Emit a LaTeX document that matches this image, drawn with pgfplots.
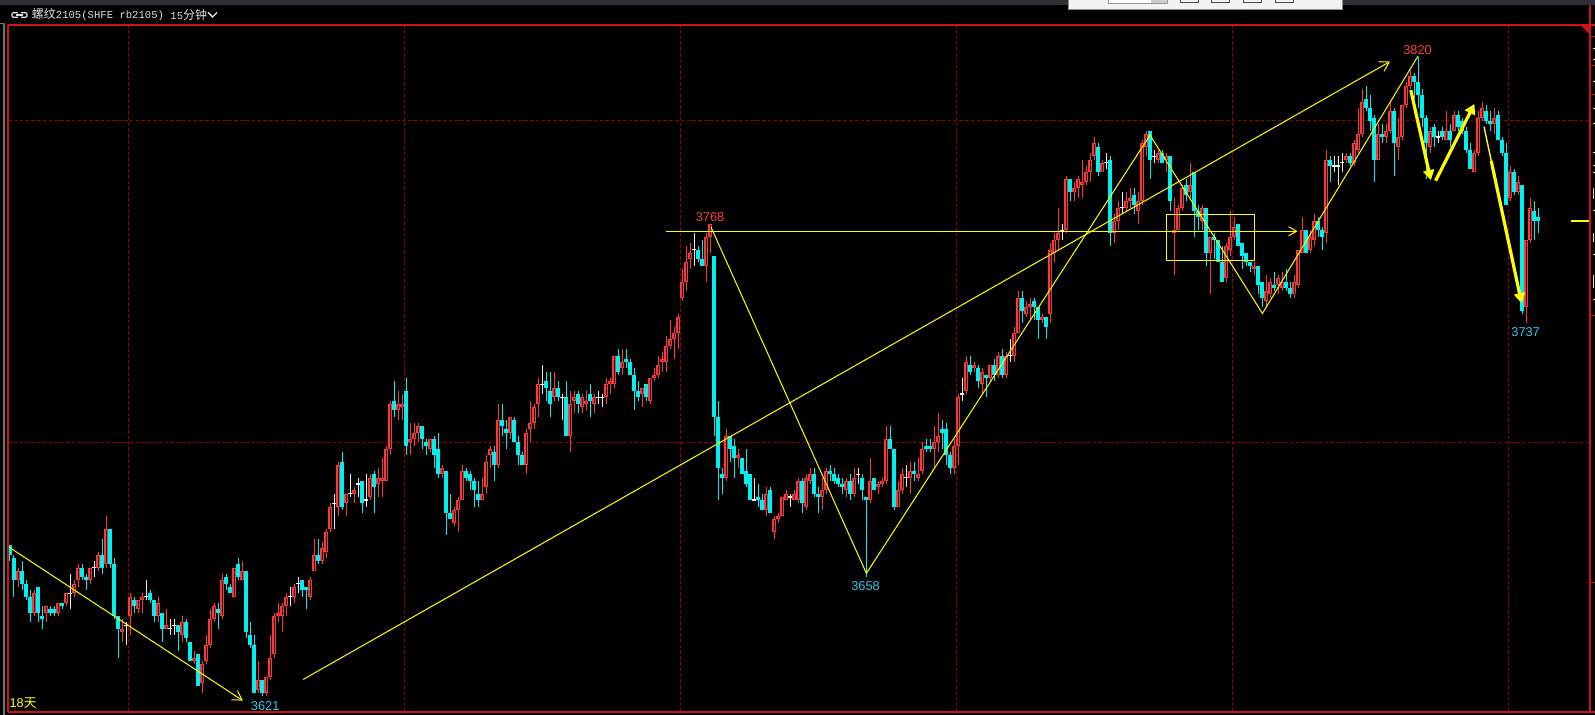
\documentclass[border=0pt]{standalone}
\usepackage{pgfplots}
\pgfplotsset{compat=1.18}
\usepackage{pgfplotstable}
\usetikzlibrary{arrows.meta}
\usepackage{fontspec}
\setmainfont{Liberation Sans}
\newfontfamily\cjk{Noto Sans CJK SC}
\newfontfamily\mono{Liberation Mono}

\definecolor{upred}{RGB}{255,55,55}
\definecolor{dncyan}{RGB}{0,240,240}
\definecolor{dojiw}{RGB}{235,235,235}
\definecolor{yel}{RGB}{255,255,0}
\definecolor{gridred}{RGB}{150,0,0}
\definecolor{framered}{RGB}{205,20,20}
\definecolor{labred}{RGB}{255,60,60}
\definecolor{labcyan}{RGB}{50,200,235}
\definecolor{titlegray}{RGB}{225,225,225}
\definecolor{topgray}{RGB}{45,48,52}

% 15-minute bars: i open high low close
\pgfplotstableread{
i o h l c
2 3657 3661 3655 3660
6 3647 3654 3646 3653
9 3647 3649 3644 3649
12 3647 3650 3646 3650
14 3650 3653 3649 3653
16 3653 3657 3652 3656
17 3657 3662 3655 3661
20 3657 3661 3656 3661
22 3661 3666 3660 3665
24 3662 3677 3661 3673
28 3641 3645 3638 3642
30 3646 3653 3640 3652
32 3648 3651 3647 3651
33 3651 3653 3647 3652
37 3646 3652 3644 3650
39 3642 3648 3642 3643
43 3640 3646 3638 3644
46 3632 3635 3631 3633
48 3625 3632 3622 3631
49 3632 3640 3631 3637
50 3637 3648 3636 3645
51 3645 3650 3644 3649
53 3646 3659 3645 3657
56 3652 3661 3652 3661
58 3657 3663 3657 3660
62 3623 3632 3622 3626
64 3622 3627 3621 3627
65 3627 3640 3626 3633
66 3634 3647 3633 3646
67 3646 3650 3644 3647
68 3646 3650 3641 3649
69 3649 3653 3646 3652
71 3652 3656 3650 3655
75 3652 3658 3651 3657
76 3660 3670 3660 3665
78 3663 3669 3662 3667
79 3666 3673 3664 3672
80 3673 3681 3672 3680
82 3680 3694 3677 3693
84 3681 3684 3677 3684
86 3684 3686 3681 3685
90 3683 3690 3682 3689
92 3687 3692 3683 3689
93 3688 3695 3683 3689
94 3688 3699 3688 3698
95 3698 3713 3696 3712
97 3710 3716 3707 3712
98 3711 3715 3707 3712
100 3700 3706 3696 3701
101 3701 3706 3699 3703
102 3703 3706 3700 3705
105 3698 3701 3697 3701
108 3690 3693 3689 3692
111 3675 3680 3674 3679
112 3679 3683 3672 3682
113 3682 3693 3682 3691
118 3682 3689 3682 3684
119 3686 3696 3684 3694
120 3696 3699 3692 3698
122 3693 3712 3692 3707
125 3703 3708 3701 3708
129 3693 3704 3690 3703
130 3704 3713 3700 3706
131 3706 3712 3704 3711
132 3712 3720 3708 3718
136 3714 3722 3713 3717
140 3702 3716 3697 3712
141 3713 3716 3709 3714
143 3711 3715 3709 3714
144 3712 3716 3710 3713
146 3712 3715 3709 3714
149 3714 3720 3712 3718
150 3718 3720 3715 3719
151 3718 3727 3717 3727
153 3723 3729 3721 3725
158 3715 3717 3711 3717
160 3713 3720 3712 3720
161 3720 3723 3719 3721
162 3721 3727 3720 3724
163 3725 3728 3722 3726
164 3725 3733 3722 3730
165 3730 3738 3729 3732
166 3732 3736 3726 3734
167 3734 3740 3729 3739
168 3745 3754 3744 3750
169 3750 3761 3747 3756
170 3757 3762 3754 3759
174 3755 3765 3750 3764
175 3764 3768 3759 3768
179 3689 3704 3688 3702
182 3695 3698 3692 3696
189 3679 3686 3677 3684
191 3672 3677 3670 3676
192 3676 3678 3675 3677
193 3677 3683 3677 3683
194 3682 3685 3682 3684
196 3682 3685 3682 3684
197 3682 3689 3681 3688
199 3680 3690 3679 3689
200 3688 3692 3687 3690
203 3683 3689 3679 3685
204 3685 3692 3684 3691
209 3685 3689 3683 3688
211 3684 3692 3683 3689
215 3682 3695 3681 3688
217 3686 3688 3684 3687
218 3687 3689 3686 3688
219 3688 3705 3687 3701
222 3680 3688 3680 3685
223 3685 3692 3684 3690
225 3689 3694 3684 3691
227 3689 3695 3688 3690
228 3691 3700 3690 3698
231 3698 3705 3692 3700
232 3700 3709 3697 3702
236 3692 3701 3690 3699
237 3699 3715 3693 3714
239 3716 3727 3715 3725
241 3723 3725 3722 3724
243 3718 3723 3715 3722
245 3720 3724 3719 3724
247 3721 3728 3720 3727
249 3721 3728 3720 3727
251 3727 3736 3725 3734
252 3734 3747 3734 3745
254 3740 3744 3739 3742
255 3742 3745 3738 3743
258 3738 3740 3737 3739
260 3740 3762 3737 3760
261 3759 3765 3756 3763
262 3763 3773 3760 3765
264 3766 3783 3765 3782
266 3778 3781 3775 3779
267 3779 3783 3776 3782
268 3780 3788 3776 3781
269 3781 3786 3780 3784
270 3784 3790 3781 3788
271 3789 3795 3788 3793
273 3784 3788 3784 3787
276 3765 3771 3762 3769
277 3769 3775 3766 3773
279 3773 3778 3772 3775
280 3775 3779 3773 3776
282 3772 3778 3768 3775
283 3775 3794 3774 3793
284 3792 3797 3789 3796
287 3788 3791 3787 3790
289 3788 3790 3784 3789
291 3765 3776 3752 3766
292 3766 3774 3766 3773
293 3773 3780 3772 3779
295 3778 3787 3776 3780
298 3769 3774 3766 3773
300 3759 3764 3746 3764
304 3751 3762 3750 3761
305 3760 3772 3758 3764
306 3764 3770 3763 3767
311 3754 3756 3752 3755
314 3744 3752 3742 3747
315 3746 3751 3745 3750
317 3749 3752 3746 3751
318 3748 3753 3747 3750
321 3746 3752 3745 3750
322 3749 3760 3748 3760
323 3759 3770 3759 3766
325 3760 3766 3759 3764
326 3763 3771 3761 3769
329 3765 3791 3762 3788
334 3788 3790 3787 3789
336 3787 3794 3786 3793
337 3791 3804 3790 3796
338 3796 3810 3795 3806
342 3788 3799 3788 3796
344 3795 3799 3793 3797
345 3797 3806 3796 3803
347 3792 3801 3788 3795
348 3795 3805 3794 3805
349 3805 3812 3804 3811
350 3811 3816 3810 3814
355 3792 3798 3790 3797
359 3794 3803 3794 3797
361 3797 3803 3797 3802
366 3784 3791 3784 3790
367 3790 3803 3789 3801
368 3801 3806 3800 3804
371 3799 3804 3796 3801
375 3776 3786 3775 3784
377 3778 3783 3777 3781
379 3742 3763 3737 3763
380 3763 3776 3762 3773
}\tabup

\pgfplotstableread{
i o h l c
0 3668 3668 3663 3665
1 3664 3665 3652 3657
3 3660 3663 3654 3656
4 3656 3657 3651 3652
5 3652 3654 3644 3647
7 3655 3655 3644 3647
8 3646 3649 3642 3645
10 3648 3649 3646 3647
11 3648 3649 3646 3647
13 3650 3650 3648 3649
18 3661 3662 3657 3658
19 3658 3659 3654 3657
23 3665 3670 3659 3661
25 3673 3673 3661 3662
26 3662 3664 3645 3646
27 3646 3646 3633 3642
31 3651 3652 3647 3649
35 3653 3654 3650 3651
36 3651 3651 3644 3646
38 3647 3647 3638 3642
42 3643 3643 3635 3641
44 3644 3645 3638 3639
45 3638 3638 3632 3632
47 3634 3634 3624 3624
52 3648 3650 3642 3647
54 3658 3659 3654 3656
55 3655 3656 3653 3653
57 3662 3664 3657 3658
59 3660 3660 3639 3641
60 3640 3644 3636 3637
61 3637 3640 3622 3622
63 3626 3626 3621 3622
73 3657 3657 3652 3654
74 3655 3655 3648 3654
77 3665 3670 3662 3663
83 3694 3697 3679 3680
88 3688 3688 3678 3681
91 3690 3691 3678 3686
96 3713 3719 3708 3710
99 3716 3720 3696 3699
103 3705 3705 3698 3701
104 3700 3701 3696 3699
106 3701 3702 3692 3696
107 3698 3703 3689 3690
109 3691 3691 3671 3678
110 3678 3684 3676 3676
114 3691 3692 3688 3689
115 3690 3691 3685 3688
116 3688 3689 3680 3685
117 3684 3688 3680 3682
121 3697 3699 3688 3693
123 3707 3712 3702 3705
124 3704 3707 3698 3703
126 3707 3708 3700 3700
127 3700 3702 3693 3696
128 3696 3697 3693 3693
134 3719 3722 3713 3717
135 3716 3722 3708 3712
137 3717 3719 3713 3714
139 3714 3719 3702 3702
142 3715 3716 3709 3712
145 3715 3718 3708 3713
152 3727 3729 3721 3722
154 3726 3729 3723 3725
155 3725 3726 3721 3721
156 3721 3723 3710 3716
157 3716 3719 3713 3714
159 3718 3718 3713 3714
172 3760 3761 3756 3757
173 3757 3763 3755 3755
176 3758 3758 3702 3708
177 3708 3713 3682 3692
178 3690 3692 3684 3689
180 3702 3702 3694 3698
181 3699 3701 3689 3695
183 3695 3695 3690 3690
184 3691 3698 3686 3687
185 3690 3690 3682 3682
187 3683 3687 3680 3682
188 3682 3684 3679 3679
190 3685 3686 3678 3678
198 3688 3689 3678 3681
201 3690 3692 3683 3684
202 3684 3686 3678 3683
205 3691 3693 3688 3690
206 3690 3692 3687 3688
207 3689 3690 3686 3687
208 3687 3689 3684 3686
210 3688 3690 3682 3684
213 3689 3690 3682 3685
214 3683 3683 3658 3682
216 3689 3689 3685 3685
220 3701 3705 3698 3698
221 3698 3698 3679 3680
226 3691 3694 3688 3690
229 3699 3701 3697 3698
230 3699 3701 3697 3698
233 3704 3707 3698 3703
234 3704 3706 3693 3696
235 3696 3697 3690 3692
240 3724 3727 3721 3722
242 3723 3724 3717 3719
244 3721 3721 3714 3720
246 3724 3726 3719 3721
248 3727 3729 3720 3721
253 3745 3747 3737 3741
256 3744 3745 3738 3742
257 3742 3742 3732 3738
259 3739 3739 3732 3736
265 3782 3782 3775 3778
272 3792 3793 3783 3784
275 3788 3789 3761 3765
281 3777 3779 3771 3774
285 3797 3797 3782 3788
288 3790 3791 3787 3787
290 3789 3789 3772 3775
294 3780 3782 3775 3777
296 3784 3784 3764 3772
297 3772 3774 3766 3770
299 3773 3773 3755 3759
301 3764 3765 3757 3763
302 3763 3763 3756 3756
303 3756 3761 3750 3750
307 3768 3768 3761 3761
308 3762 3762 3754 3758
309 3759 3759 3755 3756
310 3756 3756 3753 3755
312 3755 3755 3746 3749
313 3750 3750 3742 3745
316 3749 3753 3747 3748
319 3750 3754 3747 3748
320 3748 3750 3745 3746
324 3766 3766 3759 3759
327 3769 3770 3764 3766
328 3766 3767 3760 3764
330 3788 3789 3781 3786
335 3789 3790 3786 3787
339 3807 3811 3803 3804
340 3804 3808 3797 3800
341 3801 3802 3781 3788
343 3796 3799 3793 3795
346 3803 3804 3783 3793
351 3814 3815 3807 3812
352 3812 3820 3804 3808
353 3808 3810 3798 3801
354 3801 3802 3782 3793
356 3798 3799 3792 3795
358 3797 3798 3794 3795
360 3797 3799 3792 3794
362 3802 3803 3797 3798
363 3800 3801 3796 3797
364 3797 3798 3790 3791
365 3791 3793 3785 3785
369 3803 3805 3799 3800
370 3800 3803 3797 3799
372 3802 3803 3794 3794
373 3794 3795 3789 3790
374 3790 3793 3774 3774
376 3784 3785 3777 3778
378 3780 3780 3740 3741
381 3772 3775 3763 3769
382 3770 3773 3765 3769
}\tabdn

\pgfplotstableread{
i o h l
15 3653 3659 3648
21 3661 3663 3658
29 3643 3644 3637
34 3652 3657 3651
40 3642 3645 3640
41 3643 3645 3640
70 3652 3655 3649
72 3656 3658 3653
81 3681 3684 3673
85 3684 3690 3683
87 3687 3689 3683
89 3682 3690 3680
133 3718 3724 3715
138 3714 3715 3707
147 3714 3716 3712
148 3714 3715 3711
171 3760 3765 3755
186 3682 3689 3682
195 3683 3684 3680
212 3690 3692 3687
224 3689 3693 3686
238 3715 3720 3713
250 3727 3732 3725
263 3766 3768 3763
274 3787 3790 3785
278 3773 3778 3771
286 3789 3791 3787
331 3786 3789 3784
332 3786 3789 3780
333 3787 3790 3784
357 3795 3797 3793
}\tabdoji

\pgfplotsset{
  cndl/.style 2 args={draw=none, mark=none, forget plot,
    error bars/.cd, y dir=plus, y explicit, error mark=none,
    error bar style={draw=#1, line width=#2, line cap=butt}},
}
\tikzset{gridln/.style={draw=gridred, line width=0.5pt, dash pattern=on 1.8pt off 1.1pt}}
\newcommand\lab{\fontsize{6.4}{7}\selectfont}

\begin{document}
\begin{tikzpicture}
\begin{scope}[x=0.5pt, y=-0.5pt]
  \fill[black] (0,0) rectangle (1595,715);
  \fill[topgray] (0,0) rectangle (1595,5);
  % toolbar
  \fill[black!5] (1068,0) rectangle (1342,9);
  \draw[black!45, line width=0.4pt] (1068,0) -- (1068,9) -- (1342,9) -- (1342,0);
  \fill[white] (1108,0) rectangle (1167,3.5);
  \draw[black!40, line width=0.3pt] (1108,0) -- (1108,3.5) -- (1167,3.5) -- (1167,0);
  \fill[black!20] (1151,0) rectangle (1166.5,3);
  \foreach \xa in {1180,1211.5,1243.5,1275.5}
    \draw[black!70, line width=0.4pt] (\xa,0) -- (\xa,2) -- (\xa+18,2) -- (\xa+18,0);
  % left strip
  \draw[black!55, line width=0.6pt] (0,23.5) -- (4,23.5) -- (4,715);
\end{scope}

\begin{axis}[
  at={(4pt,-356pt)}, anchor=south west,
  scale only axis, width=791pt, height=343.5pt,
  xmin=-0.5, xmax=395, ymin=3616.06, ymax=3829.88,
  axis line style={draw=none},
  xtick=\empty, ytick=\empty,
  clip=false,
]
% day grid (every 69 bars) and price grid
\draw[gridln] (axis cs:29.5,3616.06) -- (axis cs:29.5,3829.88);
\draw[gridln] (axis cs:98.5,3616.06) -- (axis cs:98.5,3829.88);
\draw[gridln] (axis cs:167.5,3616.06) -- (axis cs:167.5,3829.88);
\draw[gridln] (axis cs:236.5,3616.06) -- (axis cs:236.5,3829.88);
\draw[gridln] (axis cs:305.5,3616.06) -- (axis cs:305.5,3829.88);
\draw[gridln] (axis cs:374.5,3616.06) -- (axis cs:374.5,3829.88);
\draw[gridln] (axis cs:-0.5,3700) -- (axis cs:395,3700);
\draw[gridln] (axis cs:-0.5,3800) -- (axis cs:395,3800);

% rising bars: hollow red
\addplot[cndl={upred}{0.5pt}] table[x=i, y=l, y error plus expr=\thisrow{h}-\thisrow{l}] {\tabup};
\addplot[cndl={upred}{1.55pt}] table[x=i, y=o, y error plus expr=\thisrow{c}-\thisrow{o}] {\tabup};
\addplot[cndl={black}{0.5pt}] table[x=i, y expr=\thisrow{o}+0.31, y error plus expr=\thisrow{c}-\thisrow{o}-0.62] {\tabup};
% falling bars: filled cyan
\addplot[cndl={dncyan}{0.5pt}] table[x=i, y=l, y error plus expr=\thisrow{h}-\thisrow{l}] {\tabdn};
\addplot[cndl={dncyan}{1.65pt}] table[x=i, y=c, y error plus expr=\thisrow{o}-\thisrow{c}] {\tabdn};
% unchanged bars: white cross
\addplot[cndl={dojiw}{0.5pt}] table[x=i, y=l, y error plus expr=\thisrow{h}-\thisrow{l}] {\tabdoji};
\addplot[cndl={dojiw}{1.6pt}] table[x=i, y expr=\thisrow{o}-0.2, y error plus expr=0.4] {\tabdoji};

% trend lines
\draw[yel, line width=0.5pt, -{Straight Barb[length=4.5pt,width=5.5pt]}]
  (axis cs:-0.4,3667.5) -- (axis cs:58.2,3619.6);
\draw[yel, line width=0.5pt, -{Straight Barb[length=4.5pt,width=5.5pt]}]
  (axis cs:73.3,3626.2) -- (axis cs:345,3818.5);
\draw[yel, line width=0.5pt, -{Straight Barb[length=4pt,width=4.5pt]}]
  (axis cs:164,3765.7) -- (axis cs:321.9,3765.7);
\draw[yel, line width=0.5pt] (axis cs:175.2,3767.1) -- (axis cs:214.1,3659.2)
  -- (axis cs:285,3795.6) -- (axis cs:313.1,3740.1) -- (axis cs:352,3820.2);
\draw[yel, line width=0.6pt] (axis cs:289.1,3756.6) rectangle (axis cs:311.2,3771.0);
\draw[yel, line width=1.6pt, -{Triangle[length=5pt,width=5.5pt]}]
  (axis cs:350.2,3809.6) -- (axis cs:355.2,3781.6);
\draw[yel, line width=1.6pt, -{Triangle[length=5pt,width=5.5pt]}]
  (axis cs:356.4,3781.4) -- (axis cs:366.1,3805.3);
\draw[yel, line width=0.7pt] (axis cs:368.5,3798.2) -- (axis cs:370.45,3786.8);
\draw[yel, line width=1.6pt, -{Triangle[length=5pt,width=5.5pt]}]
  (axis cs:370.3,3787.6) -- (axis cs:377.9,3743.3);
\draw[yel, line width=0.6pt] (axis cs:390.25,3768.9) -- (axis cs:395,3768.9);

% price labels
\node[text=labred, font=\lab] at (axis cs:175,3770.2) {3768};
\node[text=labred, font=\lab] at (axis cs:351.9,3822.1) {3820};
\node[text=labcyan, font=\lab] at (axis cs:213.9,3655.1) {3658};
\node[text=labcyan, font=\lab] at (axis cs:63.8,3618.0) {3621};
\node[text=labcyan, font=\lab] at (axis cs:378.9,3734.4) {3737};
\node[text=yel, anchor=west, inner sep=0pt] at (axis cs:-0.2,3618.8) {\lab 18\cjk 天};
\end{axis}

\begin{scope}[x=0.5pt, y=-0.5pt]
  % frame
  \draw[framered, line width=0.6pt] (8,712) -- (8,25);
  \draw[framered, line width=0.6pt] (8,25) -- (1595,25);
  \draw[framered, line width=0.6pt] (1590,5) -- (1590,712);
  \draw[framered, line width=0.6pt] (8,712) -- (1595,712);
  \fill[framered] (1580.5,25) -- (1590,25) -- (1590,35) -- cycle;
  \foreach \ya in {36.8,65.6,94.4,316,582.7}
    \draw[framered, line width=0.5pt] (1590,\ya) -- (1595,\ya);
  \foreach \ya in {49,60,82,109,124,153,166,173,211,255,300}
    \draw[white!85!black, line width=0.5pt] (1592.5,\ya) -- (1595,\ya);
  \foreach \ya/\yb in {188/199,233/242,275/288}
    \draw[white!85!black, line width=0.5pt] (1593,\ya) -- (1593,\yb);
  % title
  \draw[titlegray, line width=0.6pt, rounded corners=0.6pt]
    (18,12.8) -- (12,12.8) -- (12,17.2) -- (18,17.2);
  \draw[titlegray, line width=0.6pt, rounded corners=0.6pt]
    (21,12.8) -- (27,12.8) -- (27,17.2) -- (21,17.2);
  \draw[titlegray, line width=0.6pt] (16,15) -- (23,15);
  \node[anchor=west, inner sep=0pt, text=titlegray] at (31.5,15)
    {\fontsize{6}{7}\cjk 螺纹\fontsize{5.3}{7}\mono 2105(SHFE rb2105)};
  \node[anchor=west, inner sep=0pt, text=titlegray] at (170,15)
    {\fontsize{5.3}{7}\mono 15\fontsize{6}{7}\cjk 分钟};
  \draw[titlegray, line width=0.7pt] (208,12.5) -- (212.5,17) -- (217,12.5);
  \pgfresetboundingbox
  \path[use as bounding box] (0,0) rectangle (1595,715);
\end{scope}
\end{tikzpicture}
\end{document}
